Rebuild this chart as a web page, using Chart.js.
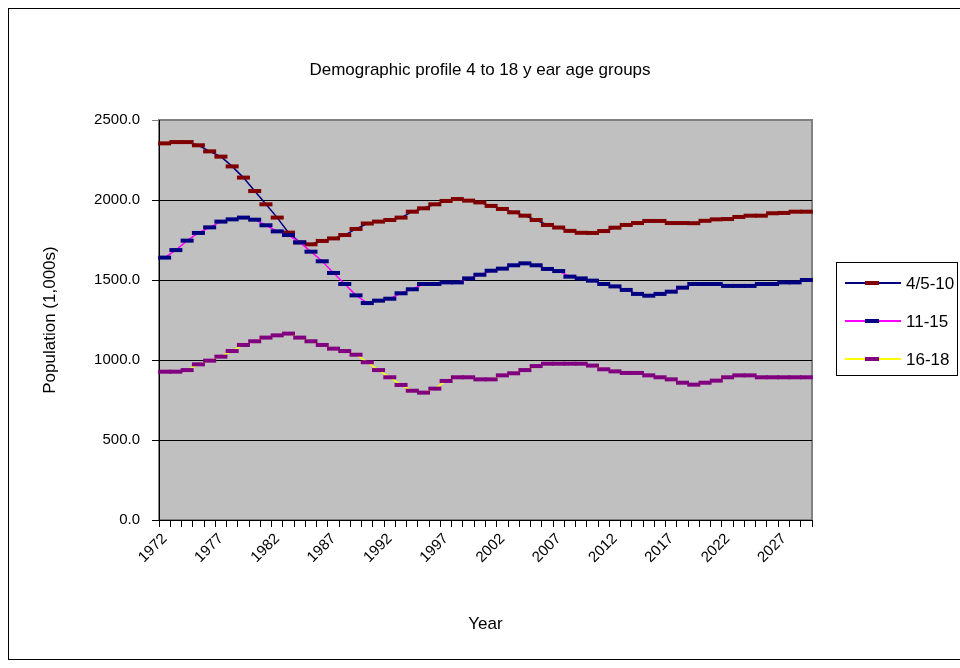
<!DOCTYPE html>
<html>
<head>
<meta charset="utf-8">
<script src="https://cdn.jsdelivr.net/npm/chart.js@4"></script>
<style>
  html, body { margin: 0; padding: 0; background: #fff; }
  canvas { display: block; }
</style>
</head>
<body>
<canvas id="myChart" width="960" height="668"></canvas>
<script>
var years = ['1972','1973','1974','1975','1976','1977','1978','1979','1980','1981',
             '1982','1983','1984','1985','1986','1987','1988','1989','1990','1991',
             '1992','1993','1994','1995','1996','1997','1998','1999','2000','2001',
             '2002','2003','2004','2005','2006','2007','2008','2009','2010','2011',
             '2012','2013','2014','2015','2016','2017','2018','2019','2020','2021',
             '2022','2023','2024','2025','2026','2027','2028','2029'];
var shownYears = ['1972','1977','1982','1987','1992','1997','2002','2007','2012','2017','2022','2027'];
var yTicks = [0, 500, 1000, 1500, 2000, 2500];

var ages4to10 = [2354, 2362, 2362, 2342, 2304, 2271, 2210, 2140, 2056, 1973,
                 1890, 1796, 1735, 1723, 1744, 1760, 1781, 1819, 1853, 1865,
                 1875, 1890, 1927, 1948, 1973, 1994, 2006, 1996, 1985, 1963,
                 1944, 1923, 1902, 1875, 1844, 1828, 1807, 1795, 1794, 1806,
                 1827, 1844, 1856, 1869, 1869, 1856, 1856, 1855, 1870, 1879,
                 1881, 1894, 1902, 1902, 1917, 1919, 1927, 1927];
var ages11to15 = [1640, 1687, 1746, 1794, 1829, 1865, 1879, 1890, 1877, 1842,
                  1804, 1781, 1735, 1677, 1617, 1544, 1475, 1404, 1356, 1371,
                  1383, 1417, 1442, 1475, 1475, 1485, 1485, 1510, 1533, 1558,
                  1571, 1592, 1604, 1592, 1569, 1556, 1521, 1510, 1496, 1475,
                  1460, 1438, 1413, 1402, 1413, 1427, 1452, 1475, 1475, 1475,
                  1463, 1463, 1463, 1475, 1475, 1485, 1485, 1500];
var ages16to18 = [927, 927, 937, 973, 996, 1021, 1056, 1094, 1117, 1140,
                  1154, 1165, 1140, 1117, 1094, 1071, 1056, 1033, 986, 937,
                  892, 844, 808, 796, 821, 869, 892, 892, 879, 879,
                  904, 917, 937, 962, 977, 977, 977, 977, 965, 942,
                  929, 919, 919, 904, 892, 879, 858, 846, 858, 871,
                  892, 904, 904, 892, 892, 892, 892, 892];

var seriesNames = ['4/5-10', '11-15', '16-18'];
var chartTitle = 'Demographic profile 4 to 18 y ear age groups';

var fontFamily = '"Liberation Sans", Arial, sans-serif';
Chart.defaults.font.family = fontFamily;
Chart.defaults.font.size = 14;
Chart.defaults.color = '#000';

// fundo cinza da area do grafico, estilo Excel
var plotBackground = {
    id: 'plotBackground',
    beforeDraw: function(chart) {
        var a = chart.chartArea;
        var ctx = chart.ctx;
        ctx.save();
        ctx.fillStyle = '#C0C0C0';
        ctx.fillRect(a.left, a.top, a.right - a.left, a.bottom - a.top);
        ctx.strokeStyle = '#808080';
        ctx.lineWidth = 2;
        ctx.strokeRect(a.left, a.top, a.right - a.left, a.bottom - a.top);
        ctx.restore();
    }
};

// titulo, legenda (linha + marcador) e moldura desenhados a mao
var excelLegend = {
    id: 'excelLegend',
    afterDraw: function(chart) {
        var ctx = chart.ctx;
        ctx.save();
        ctx.fillStyle = '#000';
        ctx.font = '17px ' + fontFamily;
        ctx.textAlign = 'center';
        ctx.textBaseline = 'middle';
        ctx.fillText(chartTitle, 480, 70);

        ctx.textAlign = 'left';
        ctx.strokeStyle = '#000';
        ctx.lineWidth = 1;
        ctx.strokeRect(836.5, 262.5, 121, 113);
        chart.data.datasets.forEach(function(ds, i) {
            var y = 283 + i * 38;
            ctx.strokeStyle = ds.borderColor;
            ctx.lineWidth = 2;
            ctx.beginPath();
            ctx.moveTo(845, y);
            ctx.lineTo(901, y);
            ctx.stroke();
            ctx.strokeStyle = ds.pointBorderColor;
            ctx.lineWidth = 4;
            ctx.beginPath();
            ctx.moveTo(865, y);
            ctx.lineTo(879, y);
            ctx.stroke();
            ctx.fillStyle = '#000';
            ctx.font = '17px ' + fontFamily;
            ctx.fillText(ds.label, 906, y + 1);
        });
        // moldura externa
        ctx.strokeStyle = '#000';
        ctx.lineWidth = 1;
        ctx.strokeRect(8.5, 8.5, 970, 651);
        ctx.restore();
    }
};

function makeDataset(label, data, lineColor, markerColor, order) {
    return {
        label: label,
        data: data,
        borderColor: lineColor,
        borderWidth: 1.5,
        pointStyle: 'line',
        pointRadius: 6.5,
        pointBorderWidth: 4,
        pointBorderColor: markerColor,
        pointBackgroundColor: markerColor,
        tension: 0,
        clip: false,
        order: order
    };
}

var ctx = document.getElementById('myChart');
window.myChart = new Chart(ctx, {
    type: 'line',
    data: {
        labels: years,
        datasets: [
            makeDataset(seriesNames[0], ages4to10, '#000080', '#800000', 3),
            makeDataset(seriesNames[1], ages11to15, '#FF00FF', '#000080', 2),
            makeDataset(seriesNames[2], ages16to18, '#FFFF00', '#800080', 1)
        ]
    },
    options: {
        responsive: false,
        animation: false,
        events: [],
        layout: { padding: { left: 0, right: 148, top: 120, bottom: 0 } },
        plugins: {
            legend: { display: false },
            tooltip: { enabled: false },
            title: { display: false }
        },
        scales: {
            x: {
                type: 'category',
                offset: true,
                afterFit: function(scale) { scale.height = 148; },
                grid: { offset: true, drawOnChartArea: false, drawTicks: true, tickLength: 7, color: '#000' },
                border: { display: true, color: '#000', width: 1 },
                ticks: {
                    autoSkip: false,
                    minRotation: 45,
                    maxRotation: 45,
                    padding: 3,
                    font: { size: 15 },
                    callback: function(value) {
                        var l = this.getLabelForValue(value);
                        return shownYears.indexOf(l) >= 0 ? l : '';
                    }
                },
                title: { display: true, text: 'Year', font: { size: 17 }, padding: { top: 0, bottom: 33 } }
            },
            y: {
                min: yTicks[0],
                max: yTicks[yTicks.length - 1],
                afterFit: function(scale) { scale.width = 159; },
                afterBuildTicks: function(scale) {
                    scale.ticks = yTicks.map(function(v) { return { value: v }; });
                },
                grid: {
                    tickLength: 7,
                    color: function(c) { return c.tick && c.tick.value === 2500 ? '#808080' : '#000'; },
                    lineWidth: 1
                },
                border: { display: true, color: '#000', width: 1 },
                ticks: {
                    padding: 12,
                    font: { size: 15 },
                    callback: function(value) { return Number(value).toFixed(1); }
                },
                title: { display: true, text: 'Population (1,000s)', font: { size: 17 }, padding: { top: 40, bottom: 0 } }
            }
        }
    },
    plugins: [plotBackground, excelLegend]
});
</script>
</body>
</html>
